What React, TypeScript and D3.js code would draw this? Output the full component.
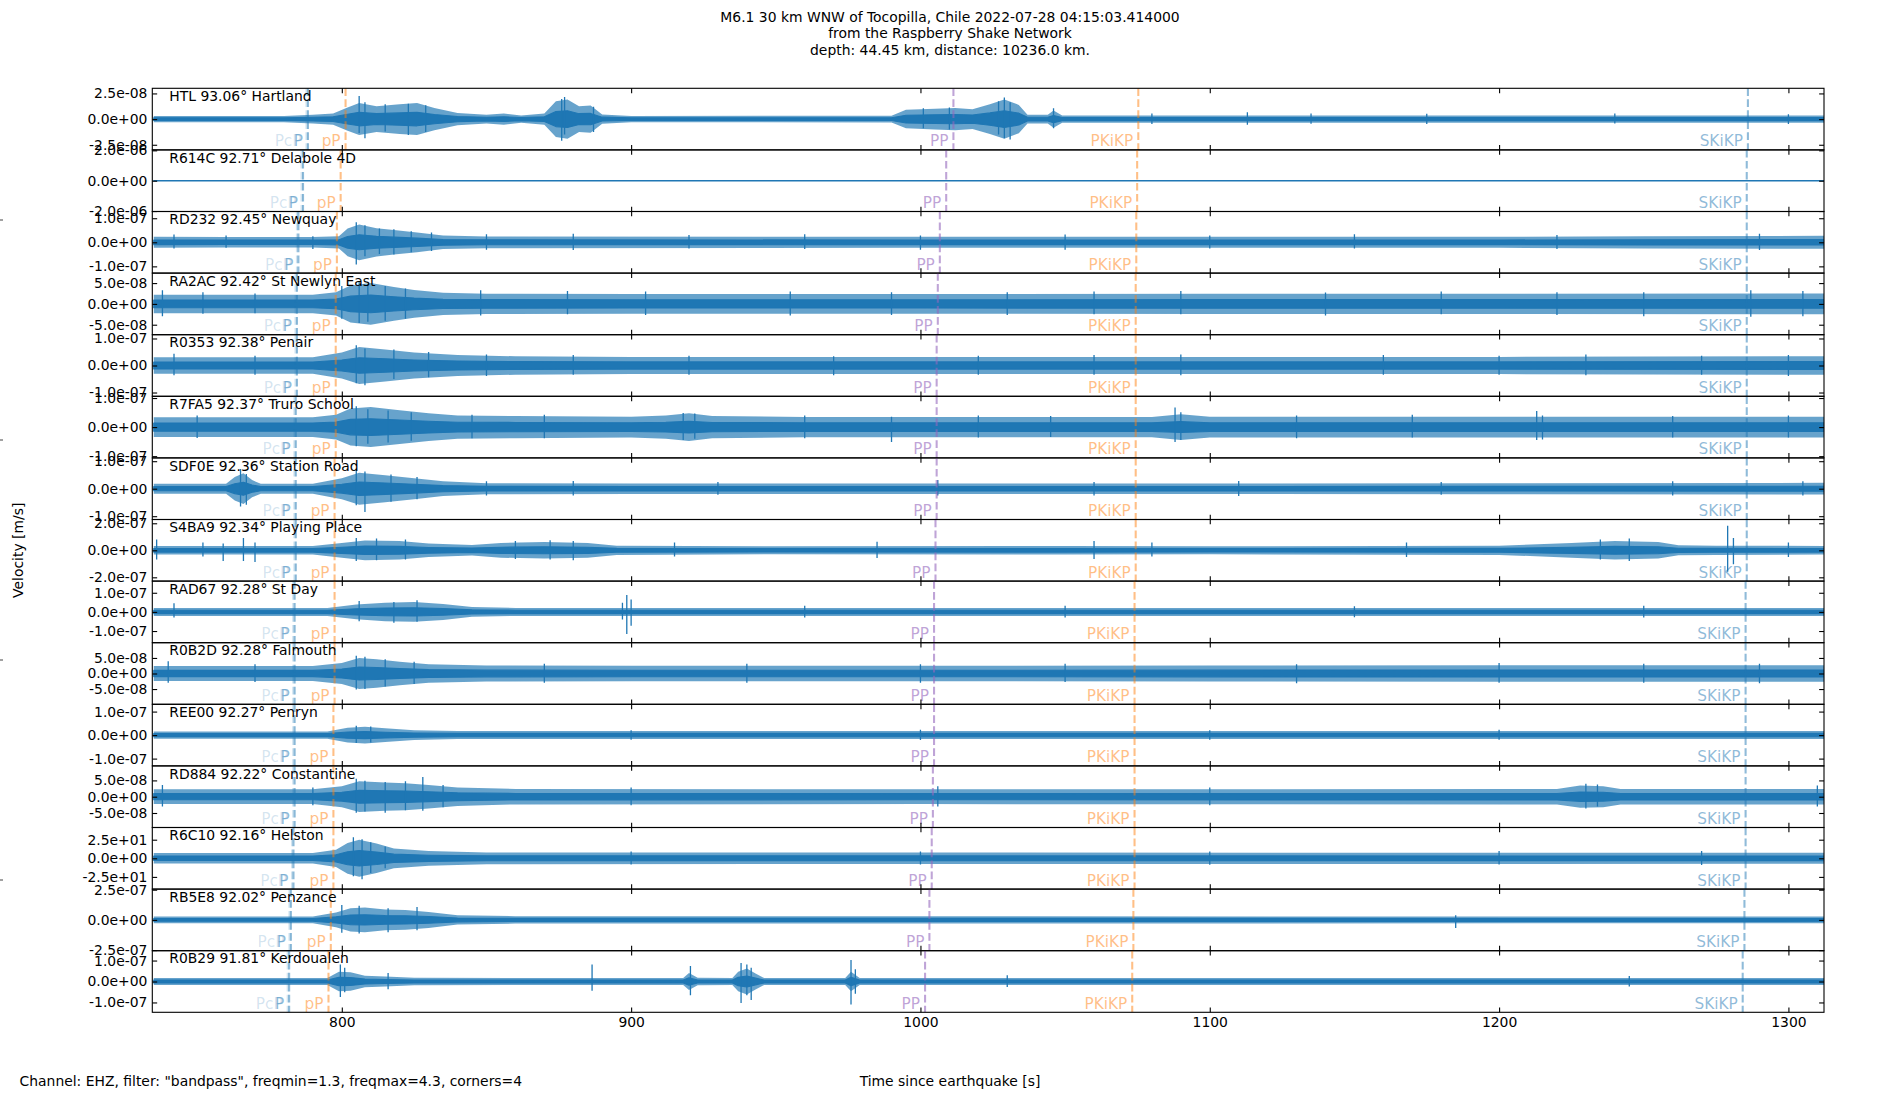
import { useEffect, useRef } from "react";
import * as d3 from "d3";

type Env = [number, number];
type Spike = [number, number, number];

const stations = ["HTL", "R614C", "RD232", "RA2AC", "R0353", "R7FA5", "SDF0E", "S4BA9", "RAD67", "R0B2D", "REE00", "RD884", "R6C10", "RB5E8", "R0B29"];
const distances = [93.06, 92.71, 92.45, 92.42, 92.38, 92.37, 92.36, 92.34, 92.28, 92.28, 92.27, 92.22, 92.16, 92.02, 91.81];
const places = ["Hartland", "Delabole 4D", "Newquay", "St Newlyn East", "Penair", "Truro School", "Station Road", "Playing Place", "St Day", "Falmouth", "Penryn", "Constantine", "Helston", "Penzance", "Kerdoualen"];

// axis half-range and labelled tick of each panel
const yLimits = [3.0e-8, 2.03e-6, 1.28e-7, 7.4e-8, 1.14e-7, 1.06e-7, 1.12e-7, 2.28e-7, 1.61e-7, 9.9e-8, 1.31e-7, 9.45e-8, 41.4, 2.55e-7, 1.47e-7];
const yTicks = [2.5e-8, 2e-6, 1e-7, 5e-8, 1e-7, 1e-7, 1e-7, 2e-7, 1e-7, 5e-8, 1e-7, 5e-8, 25, 2.5e-7, 1e-7];

const timeDomain = [734.5, 1312.3];
const timeTicks = [800, 900, 1000, 1100, 1200, 1300];

// phase arrival times [s] per station
const arrPcP = [787.8, 786.1, 784.5, 784.0, 784.0, 783.6, 783.6, 783.6, 783.2, 783.2, 783.2, 783.2, 782.8, 781.9, 781.3];
const arrP = [788.3, 786.6, 785.0, 784.5, 784.5, 784.1, 784.1, 784.1, 783.7, 783.7, 783.7, 783.7, 783.3, 782.4, 781.8];
const arrpP = [801.3, 799.6, 798.3, 797.9, 797.9, 797.9, 797.5, 797.5, 797.5, 797.5, 797.1, 797.1, 797.1, 796.2, 795.4];
const arrPP = [1011.4, 1008.9, 1006.7, 1006.0, 1005.6, 1005.6, 1005.6, 1005.2, 1004.7, 1004.7, 1004.7, 1004.3, 1003.9, 1003.1, 1001.6];
const arrPKiKP = [1075.3, 1074.9, 1074.6, 1074.4, 1074.4, 1074.4, 1074.4, 1074.4, 1074.0, 1074.0, 1074.0, 1074.0, 1074.0, 1073.6, 1073.2];
const arrSKiKP = [1286.0, 1285.6, 1285.6, 1285.6, 1285.6, 1285.6, 1285.6, 1285.6, 1285.2, 1285.2, 1285.2, 1285.2, 1285.2, 1284.8, 1284.2];

const phaseNames = ["PcP", "P", "pP", "PP", "PKiKP", "SKiKP"];
const phaseColors = ["#1f77b4", "#1f77b4", "#ff7f0e", "#9467bd", "#ff7f0e", "#1f77b4"];
const phaseAlpha = [0.2, 0.5, 0.5, 0.6, 0.5, 0.5];

// trace envelopes: [time s, peak half amplitude in % of axis range]
const envHTL: Env[] = [[735, 10], [780, 10], [790, 14], [797, 18], [802, 38], [806, 52], [812, 42], [820, 48], [826, 52], [832, 36], [840, 20], [850, 14], [856, 18], [862, 12], [870, 18], [874, 58], [878, 64], [882, 42], [886, 44], [890, 15], [900, 10], [990, 11], [995, 30], [1005, 34], [1012, 36], [1018, 32], [1024, 48], [1029, 64], [1034, 46], [1037, 14], [1044, 14], [1046, 28], [1049, 12], [1100, 12], [1200, 12], [1313, 12]];
const envR614C: Env[] = [[735, 1], [800, 1], [1313, 1]];
const envRD232: Env[] = [[735, 18], [760, 17], [790, 17], [799, 20], [802, 45], [806, 58], [812, 46], [818, 40], [826, 32], [835, 22], [850, 19], [1000, 18], [1100, 18], [1200, 18], [1250, 20], [1313, 21]];
const envRA2AC: Env[] = [[735, 30], [790, 30], [798, 38], [803, 60], [810, 68], [818, 55], [825, 45], [835, 36], [850, 33], [900, 32], [1000, 32], [1100, 33], [1200, 33], [1313, 34]];
const envR0353: Env[] = [[735, 27], [790, 27], [800, 42], [806, 60], [815, 52], [825, 42], [840, 34], [860, 30], [900, 28], [1000, 28], [1100, 28], [1200, 28], [1313, 30]];
const envR7FA5: Env[] = [[735, 32], [790, 32], [798, 40], [803, 60], [810, 65], [820, 55], [830, 45], [840, 38], [860, 36], [900, 34], [912, 38], [920, 45], [928, 36], [960, 33], [1080, 33], [1090, 42], [1100, 34], [1200, 34], [1313, 34]];
const envSDF0E: Env[] = [[735, 16], [760, 16], [763, 38], [766, 50], [769, 28], [772, 16], [790, 16], [800, 34], [806, 52], [815, 44], [825, 34], [835, 24], [850, 18], [900, 17], [1100, 17], [1200, 18], [1313, 19]];
const envS4BA9: Env[] = [[735, 14], [790, 14], [800, 24], [808, 32], [820, 30], [830, 22], [845, 17], [855, 24], [870, 27], [885, 24], [895, 15], [950, 13], [1050, 14], [1100, 13], [1200, 15], [1225, 24], [1240, 30], [1255, 27], [1262, 16], [1275, 15], [1313, 14]];
const envRAD67: Env[] = [[735, 13], [795, 13], [805, 24], [815, 30], [825, 32], [835, 26], [845, 16], [860, 13], [1313, 13]];
const envR0B2D: Env[] = [[735, 24], [790, 24], [800, 34], [806, 50], [812, 46], [820, 38], [830, 30], [850, 26], [900, 25], [1000, 25], [1100, 26], [1200, 27], [1313, 27]];
const envREE00: Env[] = [[735, 12], [795, 12], [802, 24], [808, 27], [815, 22], [825, 16], [840, 13], [1313, 13]];
const envRD884: Env[] = [[735, 24], [790, 24], [800, 34], [806, 50], [815, 46], [822, 44], [830, 38], [840, 30], [860, 25], [1000, 24], [1220, 25], [1228, 36], [1236, 34], [1242, 25], [1313, 25]];
const envR6C10: Env[] = [[735, 17], [790, 17], [798, 28], [802, 50], [806, 60], [812, 48], [818, 32], [830, 24], [850, 19], [1313, 18]];
const envRB5E8: Env[] = [[735, 11], [790, 11], [798, 24], [803, 38], [808, 40], [815, 34], [822, 32], [830, 26], [840, 15], [860, 12], [1313, 11]];
const envR0B29: Env[] = [[735, 11], [795, 11], [799, 32], [803, 30], [808, 19], [815, 16], [825, 12], [918, 11], [920, 28], [923, 12], [935, 11], [937, 32], [940, 42], [943, 26], [946, 11], [974, 11], [976, 32], [979, 11], [1313, 11]];

// single large swings: [time s, up %, down %]
const spkHTL: Spike[] = [[806, 75, 45], [808, 55, 62], [815, 48, 40], [823, 50, 52], [829, 45, 42], [876, 65, 70], [877, 72, 50], [887, 40, 42], [1001, 35, 30], [1010, 38, 34], [1027, 58, 50], [1029, 70, 62], [1031, 55, 66], [1046, 35, 30], [1080, 18, 16], [1113, 22, 18], [1135, 18, 15], [1175, 17, 16], [1240, 18, 14], [1300, 16, 16]];
const spkR614C: Spike[] = [];
const spkRD232: Spike[] = [[742, 25, 20], [760, 22, 18], [790, 20, 22], [805, 65, 72], [808, 55, 45], [813, 45, 38], [818, 42, 40], [824, 36, 32], [831, 32, 28], [850, 26, 24], [880, 28, 25], [920, 24, 20], [960, 26, 22], [1000, 22, 24], [1050, 25, 24], [1100, 22, 20], [1150, 26, 20], [1220, 24, 22], [1290, 28, 25]];
const spkRA2AC: Spike[] = [[738, 44, 40], [752, 38, 32], [770, 34, 30], [800, 58, 48], [806, 72, 62], [809, 64, 58], [815, 58, 55], [822, 50, 48], [848, 44, 38], [878, 42, 34], [905, 40, 36], [955, 40, 38], [990, 38, 36], [1030, 38, 36], [1060, 40, 34], [1090, 42, 34], [1140, 37, 38], [1180, 40, 34], [1220, 38, 36], [1250, 38, 40], [1287, 44, 42], [1305, 42, 40]];
const spkR0353: Spike[] = [[742, 38, 32], [770, 32, 30], [805, 66, 58], [808, 55, 64], [818, 52, 44], [830, 44, 38], [850, 36, 34], [880, 34, 30], [920, 32, 30], [970, 30, 32], [1020, 32, 30], [1060, 34, 30], [1090, 36, 32], [1160, 34, 30], [1200, 32, 30], [1230, 36, 32], [1270, 32, 30], [1300, 34, 34]];
const spkR7FA5: Spike[] = [[750, 38, 35], [805, 68, 62], [809, 58, 54], [816, 54, 50], [824, 48, 44], [845, 40, 36], [870, 40, 36], [918, 46, 42], [922, 44, 38], [960, 38, 36], [990, 34, 48], [1020, 38, 34], [1045, 36, 32], [1088, 64, 48], [1090, 48, 42], [1130, 38, 36], [1170, 40, 34], [1213, 52, 42], [1215, 38, 40], [1260, 36, 34], [1300, 38, 34]];
const spkSDF0E: Spike[] = [[765, 64, 58], [767, 48, 52], [805, 60, 54], [808, 56, 76], [817, 46, 42], [826, 38, 34], [850, 24, 22], [880, 25, 22], [930, 22, 20], [1006, 28, 22], [1060, 22, 22], [1110, 25, 24], [1180, 22, 20], [1260, 24, 22], [1305, 24, 22]];
const spkS4BA9: Spike[] = [[736, 35, 30], [752, 25, 20], [759, 22, 35], [766, 40, 35], [770, 25, 38], [805, 40, 35], [812, 38, 32], [822, 35, 30], [860, 30, 28], [872, 33, 30], [880, 30, 32], [915, 25, 20], [985, 28, 25], [1060, 30, 28], [1080, 25, 20], [1168, 25, 22], [1235, 35, 30], [1245, 38, 35], [1279, 80, 70], [1281, 40, 45], [1300, 25, 22]];
const spkRAD67: Spike[] = [[742, 28, 18], [806, 35, 30], [818, 32, 35], [826, 38, 32], [897, 30, 25], [898.5, 55, 72], [900, 40, 45], [960, 20, 18], [1050, 20, 18], [1150, 18, 17], [1250, 20, 18]];
const spkR0B2D: Spike[] = [[740, 40, 30], [770, 30, 28], [805, 58, 52], [808, 54, 50], [815, 46, 42], [825, 38, 34], [870, 32, 30], [940, 32, 30], [1000, 30, 30], [1050, 32, 28], [1130, 30, 32], [1200, 34, 30], [1250, 32, 30], [1290, 32, 32]];
const spkREE00: Spike[] = [[805, 30, 26], [810, 28, 24], [900, 16, 15], [1000, 17, 16], [1100, 16, 15], [1200, 17, 15]];
const spkRD884: Spike[] = [[738, 38, 32], [790, 30, 28], [805, 58, 52], [808, 52, 48], [815, 48, 52], [822, 50, 44], [828, 64, 46], [835, 38, 34], [900, 30, 28], [1006, 34, 32], [1100, 30, 28], [1230, 42, 38], [1234, 40, 32], [1310, 36, 32]];
const spkR6C10: Spike[] = [[804, 68, 58], [807, 62, 68], [810, 52, 48], [815, 38, 32], [900, 22, 20], [1000, 22, 20], [1100, 22, 21], [1200, 24, 20], [1270, 24, 22]];
const spkRB5E8: Spike[] = [[800, 48, 42], [806, 46, 44], [816, 38, 40], [826, 42, 34], [1185, 15, 26]];
const spkR0B29: Spike[] = [[799.5, 55, 50], [801, 45, 35], [816, 28, 25], [886.5, 55, 30], [920.5, 50, 45], [938, 60, 70], [940, 55, 45], [941.5, 45, 60], [976, 70, 75], [977.5, 40, 40], [1030, 20, 18], [1245, 18, 16]];

const envelopes = [envHTL, envR614C, envRD232, envRA2AC, envR0353, envR7FA5, envSDF0E, envS4BA9, envRAD67, envR0B2D, envREE00, envRD884, envR6C10, envRB5E8, envR0B29];
const spikes = [spkHTL, spkR614C, spkRD232, spkRA2AC, spkR0353, spkR7FA5, spkSDF0E, spkS4BA9, spkRAD67, spkR0B2D, spkREE00, spkRD884, spkR6C10, spkRB5E8, spkR0B29];

const titleLines = [
  "M6.1 30 km WNW of Tocopilla, Chile 2022-07-28 04:15:03.414000",
  "from the Raspberry Shake Network",
  "depth: 44.45 km, distance: 10236.0 km.",
];

const FONT = "DejaVu Sans, sans-serif";
const BLUE = "#1f77b4";

const sci = (v: number) => {
  const [m, e] = v.toExponential(1).split("e");
  const n = +e;
  return `${m}e${n < 0 ? "-" : "+"}${String(Math.abs(n)).padStart(2, "0")}`;
};

export default function App() {
  const svgRef = useRef<SVGSVGElement>(null);

  useEffect(() => {
    if (!svgRef.current) return;
    const W = 1900;
    const H = 1100;
    const left = 152.3;
    const right = 1824;
    const top = 88.3;
    const bottom = 1012.3;
    const panelH = (bottom - top) / stations.length;
    const tick = 4.86;

    const svg = d3.select(svgRef.current);
    svg.selectAll("*").remove();
    svg.attr("width", W).attr("height", H).attr("viewBox", `0 0 ${W} ${H}`);
    svg.append("rect").attr("width", W).attr("height", H).attr("fill", "#fff");
    const defs = svg.append("defs");

    const x = d3.scaleLinear().domain(timeDomain).range([left, right]);
    const arrivals = [arrPcP, arrP, arrpP, arrPP, arrPKiKP, arrSKiKP];

    // Title
    svg.append("g")
      .selectAll("text")
      .data(titleLines)
      .join("text")
      .attr("x", W / 2)
      .attr("y", (_, i) => 22 + i * 16.3)
      .attr("text-anchor", "middle")
      .attr("font-family", FONT)
      .attr("font-size", 13.9)
      .text((d) => d);

    stations.forEach((code, i) => {
      const pTop = top + i * panelH;
      const pBot = pTop + panelH;
      const mid = (pTop + pBot) / 2;
      const lim = yLimits[i];
      const y = d3.scaleLinear().domain([-lim, lim]).range([pBot, pTop]);
      // dense core of the trace, drawn from the same envelope
      const yCore = d3.scaleLinear().domain([-lim, lim]).range([mid + panelH * 0.21, mid - panelH * 0.21]);
      const g = svg.append("g");

      defs.append("clipPath").attr("id", `clip${i}`)
        .append("rect").attr("x", left).attr("y", pTop).attr("width", right - left).attr("height", panelH);
      const plot = g.append("g").attr("clip-path", `url(#clip${i})`);

      const env = envelopes[i];
      const outer = d3.area<Env>()
        .x((d) => x(d[0]))
        .y0((d) => y((-d[1] * lim) / 100))
        .y1((d) => y((d[1] * lim) / 100));
      const inner = d3.area<Env>()
        .x((d) => x(d[0]))
        .y0((d) => yCore((-d[1] * lim) / 100))
        .y1((d) => yCore((d[1] * lim) / 100));
      plot.append("path").datum(env).attr("d", outer).attr("fill", BLUE).attr("fill-opacity", 0.68);
      plot.append("path").datum(env).attr("d", inner)
        .attr("fill", BLUE).attr("stroke", BLUE).attr("stroke-width", 1.1).attr("stroke-linejoin", "round");

      // Large swings
      plot.selectAll("line.spike")
        .data(spikes[i])
        .join("line")
        .attr("x1", (d) => x(d[0]))
        .attr("x2", (d) => x(d[0]))
        .attr("y1", (d) => y((d[1] * lim) / 100))
        .attr("y2", (d) => y((-d[2] * lim) / 100))
        .attr("stroke", BLUE)
        .attr("stroke-width", 1.3);

      // Phase markers
      phaseNames.forEach((name, k) => {
        const px = x(arrivals[k][i]);
        plot.append("line")
          .attr("x1", px).attr("x2", px)
          .attr("y1", pTop).attr("y2", pBot)
          .attr("stroke", phaseColors[k])
          .attr("stroke-opacity", phaseAlpha[k])
          .attr("stroke-width", 2.08)
          .attr("stroke-dasharray", "7.7,3.3");
        g.append("text")
          .attr("x", px - 5)
          .attr("y", pBot - 3.6)
          .attr("text-anchor", "end")
          .attr("font-family", FONT)
          .attr("font-size", 15.3)
          .attr("fill", phaseColors[k])
          .attr("fill-opacity", phaseAlpha[k])
          .text(name);
      });

      // Station label
      g.append("text")
        .attr("x", left + 17)
        .attr("y", pTop + 12.6)
        .attr("font-family", FONT)
        .attr("font-size", 13.9)
        .attr("fill", "#000")
        .text(`${code} ${distances[i].toFixed(2)}° ${places[i]}`);

      // Axes, ticks pointing inward
      const yVals = [-yTicks[i], 0, yTicks[i]];
      const styleAxis = (a: d3.Selection<SVGGElement, unknown, null, undefined>) => {
        a.select(".domain").remove();
        a.selectAll(".tick line").attr("stroke", "#000").attr("stroke-width", 1.1);
        a.selectAll(".tick text").attr("font-family", FONT).attr("font-size", 13.9).attr("fill", "#000");
      };
      g.append("g")
        .attr("transform", `translate(${left},0)`)
        .call(d3.axisLeft(y).tickValues(yVals).tickSize(-tick).tickPadding(tick).tickFormat((d) => sci(+d)))
        .call(styleAxis);
      g.append("g")
        .attr("transform", `translate(${right},0)`)
        .call(d3.axisRight(y).tickValues(yVals).tickSize(-tick).tickFormat(() => ""))
        .call(styleAxis);
      g.append("g")
        .attr("transform", `translate(0,${pTop})`)
        .call(d3.axisTop(x).tickValues(timeTicks).tickSize(-tick).tickFormat(() => ""))
        .call(styleAxis);
      g.append("g")
        .attr("transform", `translate(0,${pBot})`)
        .call(
          d3.axisBottom(x).tickValues(timeTicks).tickSize(-tick).tickPadding(tick)
            .tickFormat((d) => (i === stations.length - 1 ? String(d) : ""))
        )
        .call(styleAxis);

      g.append("rect")
        .attr("x", left).attr("y", pTop)
        .attr("width", right - left).attr("height", panelH)
        .attr("fill", "none").attr("stroke", "#000").attr("stroke-width", 1.1);
    });

    // Figure-wide hidden axis: only its tick stubs at the left edge show
    const fy = d3.scaleLinear().domain([0, 1]).range([H, 0]);
    svg.append("g")
      .selectAll("line")
      .data([0.2, 0.4, 0.6, 0.8])
      .join("line")
      .attr("x1", 0).attr("x2", 3)
      .attr("y1", (d) => fy(d)).attr("y2", (d) => fy(d))
      .attr("stroke", "#555").attr("stroke-width", 1.1);

    svg.append("text")
      .attr("transform", `translate(22.6,${(top + bottom) / 2}) rotate(-90)`)
      .attr("text-anchor", "middle")
      .attr("font-family", FONT)
      .attr("font-size", 13.9)
      .text("Velocity [m/s]");

    svg.append("text")
      .attr("x", 950).attr("y", 1085.7)
      .attr("text-anchor", "middle")
      .attr("font-family", FONT)
      .attr("font-size", 13.9)
      .text("Time since earthquake [s]");

    svg.append("text")
      .attr("x", 19.6).attr("y", 1085.7)
      .attr("font-family", FONT)
      .attr("font-size", 13.9)
      .text('Channel: EHZ, filter: "bandpass", freqmin=1.3, freqmax=4.3, corners=4');
  }, []);

  return (
    <div style={{ position: "absolute", left: 0, top: 0, width: 1900, height: 1100 }}>
      <svg ref={svgRef} role="img" aria-label="Seismograms of M6.1 Tocopilla earthquake at Raspberry Shake stations" />
    </div>
  );
}
